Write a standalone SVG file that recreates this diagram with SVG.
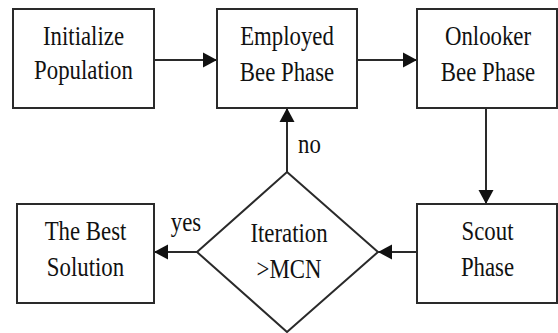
<svg xmlns="http://www.w3.org/2000/svg" width="558" height="333" viewBox="0 0 558 333">
<style>
.box{fill:#fff;stroke:#2a2a2a;stroke-width:2}
.edge{fill:none;stroke:#2a2a2a;stroke-width:2}
text{font-family:'Liberation Serif','Times New Roman','DejaVu Serif',serif;font-size:22.8px;fill:#111;text-anchor:middle}
</style>
<defs>
<marker id="arr" markerUnits="userSpaceOnUse" markerWidth="16" markerHeight="18" viewBox="0 0 16 18" refX="14" refY="9" orient="auto">
<path d="M0,1.5 L14,9 L0,16.5 Z" fill="#111"/>
</marker>
</defs>
<rect width="558" height="333" fill="#fff"/>
<g id="connectors">
<line class="edge" x1="154" y1="60" x2="217" y2="60" marker-end="url(#arr)"/>
<line class="edge" x1="357" y1="60" x2="417" y2="60" marker-end="url(#arr)"/>
<line class="edge" x1="486" y1="108" x2="486" y2="204" marker-end="url(#arr)"/>
<line class="edge" x1="417" y1="252" x2="378" y2="252" marker-end="url(#arr)"/>
<line class="edge" x1="197" y1="252" x2="154" y2="252" marker-end="url(#arr)"/>
<line class="edge" x1="287" y1="172" x2="287" y2="108" marker-end="url(#arr)"/>
<text transform="translate(186 231) scale(1 1.16)">yes</text>
<text transform="translate(309.5 153) scale(1 1.16)">no</text>
</g>
<g id="init">
<rect class="box" x="13" y="9" width="141" height="99"/>
<text transform="translate(83.5 45) scale(1 1.16)">Initialize</text>
<text transform="translate(83.5 79) scale(1 1.16)">Population</text>
</g>
<g id="employed">
<rect class="box" x="217" y="9" width="140" height="99"/>
<text transform="translate(287 45) scale(1 1.16)">Employed</text>
<text transform="translate(287 80.5) scale(1 1.16)">Bee Phase</text>
</g>
<g id="onlooker">
<rect class="box" x="417" y="9" width="140" height="99"/>
<text transform="translate(488 45) scale(1 1.16)">Onlooker</text>
<text transform="translate(488 81) scale(1 1.16)">Bee Phase</text>
</g>
<g id="scout">
<rect class="box" x="417" y="204" width="140" height="99"/>
<text transform="translate(487.5 239.5) scale(1 1.16)">Scout</text>
<text transform="translate(487.5 276) scale(1 1.16)">Phase</text>
</g>
<g id="decision">
<polygon class="box" points="287,172 378,252 287,332 197,252"/>
<text transform="translate(289 242) scale(1 1.16)">Iteration</text>
<text transform="translate(289 278) scale(1 1.16)">&gt;MCN</text>
</g>
<g id="best">
<rect class="box" x="17" y="204" width="137" height="99"/>
<text transform="translate(85.5 240) scale(1 1.16)">The Best</text>
<text transform="translate(85.5 276) scale(1 1.16)">Solution</text>
</g>
</svg>
